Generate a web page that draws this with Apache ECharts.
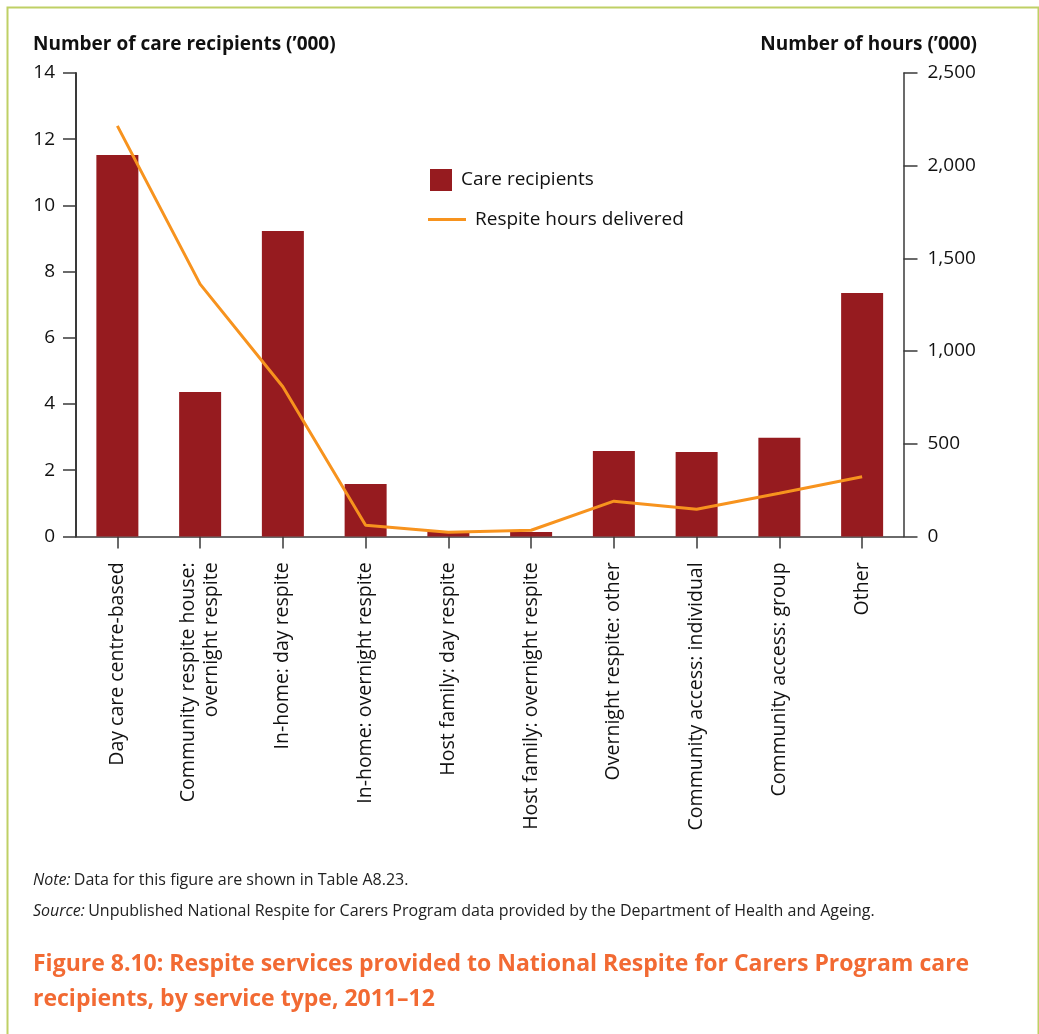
<!DOCTYPE html>
<html>
<head>
<meta charset="utf-8">
<script src="https://cdn.jsdelivr.net/npm/echarts@6/dist/echarts.min.js"></script>
<style>
  html, body { margin: 0; padding: 0; background: #ffffff; }
  #chart { width: 1039px; height: 1034px; }
</style>
</head>
<body>
<div id="chart"></div>
<script>
// Service types (x-axis categories)
const categories = [
  'Day care centre-based',
  'Community respite house:\novernight respite',
  'In-home: day respite',
  'In-home: overnight respite',
  'Host family: day respite',
  'Host family: overnight respite',
  'Overnight respite: other',
  'Community access: individual',
  'Community access: group',
  'Other'
];

// Care recipients ('000), left axis
const careRecipients = [11.52, 4.36, 9.23, 1.58, 0.13, 0.13, 2.58, 2.55, 2.98, 7.35];

// Respite hours delivered ('000), right axis
const respiteHours = [2215, 1361, 807, 60, 22, 33, 190, 146, 233, 322];

// Axis tick settings
const leftTicks = { min: 0, max: 14, interval: 2 };
const rightTicks = { min: 0, max: 2500, interval: 500 };

const FONT = '"Open Sans", "Noto Sans", sans-serif';
const BAR_COLOR = '#961B1F';
const LINE_COLOR = '#F7931E';
const AXIS_COLOR = '#3a3a3a';

const chart = echarts.init(document.getElementById('chart'), null, { renderer: 'canvas' });

const fmtThousands = v => String(v).replace(/\B(?=(\d{3})+(?!\d))/g, ',');

const option = {
  backgroundColor: '#ffffff',
  animation: false,
  textStyle: { fontFamily: FONT },
  grid: { left: 76, right: 135.5, top: 73, bottom: 497.6, containLabel: false },
  legend: [
    {
      data: ['Care recipients'],
      left: 430, top: 169, padding: 0,
      icon: 'rect',
      itemWidth: 22, itemHeight: 22, itemGap: 0,
      textStyle: { fontFamily: FONT, fontSize: 19, color: '#111', padding: [0, 0, 0, 4] },
      selectedMode: false
    },
    {
      data: ['Respite hours delivered'],
      left: 428, top: 210, padding: 0,
      icon: 'rect',
      itemWidth: 38, itemHeight: 3,
      textStyle: { fontFamily: FONT, fontSize: 19, color: '#111', padding: [0, 0, 0, 4] },
      selectedMode: false
    }
  ],
  xAxis: {
    type: 'category',
    data: categories,
    axisLine: { show: true, lineStyle: { color: AXIS_COLOR, width: 1.5 } },
    axisTick: { show: true, alignWithLabel: true, length: 12, lineStyle: { color: AXIS_COLOR, width: 1.5 } },
    axisLabel: {
      interval: 0, rotate: 90, margin: 26,
      fontFamily: FONT, fontSize: 19.5, color: '#111', lineHeight: 23, align: 'right'
    }
  },
  yAxis: [
    {
      type: 'value',
      min: leftTicks.min, max: leftTicks.max, interval: leftTicks.interval,
      position: 'left',
      splitLine: { show: false },
      axisLine: { show: true, lineStyle: { color: AXIS_COLOR, width: 2 } },
      axisTick: { show: true, length: 13, lineStyle: { color: AXIS_COLOR, width: 1.5 } },
      axisLabel: { margin: 21, fontFamily: FONT, fontSize: 19, color: '#111' }
    },
    {
      type: 'value',
      min: rightTicks.min, max: rightTicks.max, interval: rightTicks.interval,
      position: 'right',
      splitLine: { show: false },
      axisLine: { show: true, lineStyle: { color: AXIS_COLOR, width: 1.5 } },
      axisTick: { show: true, length: 14, lineStyle: { color: AXIS_COLOR, width: 1.5 } },
      axisLabel: { margin: 24, fontFamily: FONT, fontSize: 19, color: '#111', formatter: fmtThousands }
    }
  ],
  series: [
    {
      name: 'Care recipients',
      type: 'bar',
      yAxisIndex: 0,
      data: careRecipients,
      barWidth: 42,
      itemStyle: { color: BAR_COLOR },
      z: 2
    },
    {
      name: 'Respite hours delivered',
      type: 'line',
      yAxisIndex: 1,
      data: respiteHours,
      symbol: 'none',
      lineStyle: { color: LINE_COLOR, width: 3 },
      itemStyle: { color: LINE_COLOR },
      z: 3
    }
  ],
  graphic: [
    // page frame
    {
      type: 'rect', left: 5, top: 5, z: -1,
      shape: { width: 1031, height: 1040 },
      style: { fill: 'none', stroke: '#BFD065', lineWidth: 2 }
    },
    {
      type: 'text', left: 33, top: 35,
      style: { text: 'Number of care recipients (\u2019000)', font: 'bold 19px ' + FONT, fill: '#111' }
    },
    {
      type: 'text', right: 62, top: 35,
      style: { text: 'Number of hours (\u2019000)', font: 'bold 19px ' + FONT, fill: '#111' }
    },
    {
      type: 'text', left: 33, top: 872,
      style: {
        rich: {
          i: { fontFamily: FONT, fontSize: 16, fontStyle: 'italic', fill: '#222' },
          n: { fontFamily: FONT, fontSize: 16, fill: '#222' }
        },
        text: '{i|Note:} {n|Data for this figure are shown in Table A8.23.}'
      }
    },
    {
      type: 'text', left: 33, top: 903,
      style: {
        rich: {
          i: { fontFamily: FONT, fontSize: 16, fontStyle: 'italic', fill: '#222' },
          n: { fontFamily: FONT, fontSize: 16, fill: '#222' }
        },
        text: '{i|Source:} {n|Unpublished National Respite for Carers Program data provided by the Department of Health and Ageing.}'
      }
    },
    {
      type: 'text', left: 33, top: 947,
      style: {
        text: 'Figure 8.10: Respite services provided to National Respite for Carers Program care\nrecipients, by service type, 2011\u201312',
        font: 'bold 23px ' + FONT, fill: '#F26A33', lineHeight: 35
      }
    }
  ]
};

chart.setOption(option);
</script>
</body>
</html>
